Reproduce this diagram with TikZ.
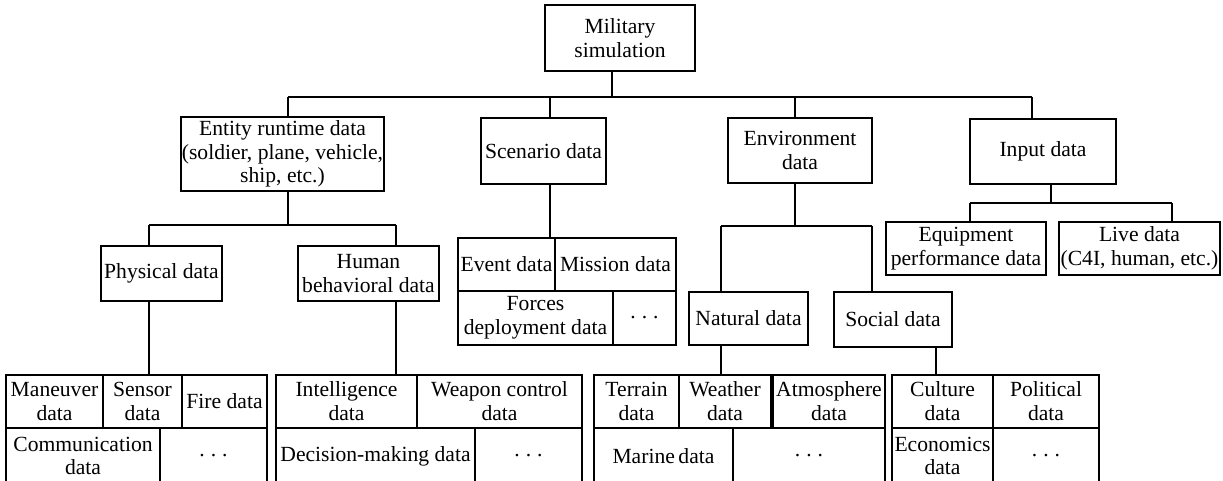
\documentclass[tikz,border=0pt]{standalone}
\usepackage{fontspec}
\setmainfont{Liberation Serif}
\usetikzlibrary{calc}
\newcommand\diagfont{\fontsize{10.8pt}{11.9pt}\selectfont}
\newcommand\spdots{.\hspace{0.28em}.\hspace{0.28em}.}
% cell from corner (x1,y1) to corner (x2,y2), in pixel units
\newcommand\cellnode[6]{%
  \pgfmathsetmacro\cellw{(#4-#2)*0.5}%
  \pgfmathsetmacro\cellh{(#5-#3)*0.5}%
  \node[box, minimum width=\cellw pt, minimum height=\cellh pt] (#1) at ({(#2+#4)/2},{(#3+#5)/2}) {#6};}
\tikzset{
  box/.style={draw, line width=0.65pt, inner sep=0.5pt, align=center, font=\diagfont},
  link/.style={draw, line width=0.65pt},
}
\begin{document}
\begin{tikzpicture}[x=0.5pt, y=-0.5pt]
\useasboundingbox (0,0) rectangle (1223,481);
\fill[white] (0,0) rectangle (1223,481);
\begin{scope}
\clip (0,0) rectangle (1223,481);

% top level
\cellnode{root}{545}{5}{695}{71}{Military\\simulation}
\cellnode{entity}{181}{117}{384}{191}{Entity runtime data\\(soldier, plane, vehicle,\\ship, etc.)}
\cellnode{scenario}{481}{118}{606}{184}{Scenario data}
\cellnode{env}{728}{118}{872}{183}{Environment\\data}
\cellnode{input}{970}{119}{1116}{184}{Input data}

% second level
\cellnode{phys}{101}{246}{222}{301}{Physical data}
\cellnode{human}{298}{246}{439}{301}{Human\\behavioral data}
\cellnode{natural}{689}{292}{808}{345}{Natural data}
\cellnode{social}{834}{292}{952}{347}{Social data}
\cellnode{equip}{886}{222}{1046}{275}{Equipment\\performance data}
\cellnode{live}{1059}{222}{1220}{275}{Live data\\(C4I, human, etc.)}

% scenario data grid
\cellnode{event}{458}{238}{555}{291}{Event data}
\cellnode{mission}{555}{238}{676}{291}{Mission data}
\cellnode{forces}{458}{291}{613}{345}{Forces\\deployment data}
\cellnode{scnmore}{613}{291}{676}{345}{\spdots}

% physical data grid
\cellnode{maneuver}{6}{375}{103}{428}{Maneuver\\data}
\cellnode{sensor}{103}{375}{182}{428}{Sensor\\data}
\cellnode{fire}{182}{375}{267}{428}{Fire data}
\cellnode{comm}{6}{428}{160}{484}{Communication\\data}
\cellnode{physmore}{160}{428}{267}{484}{\spdots}

% human behavioral data grid
\cellnode{intel}{276}{375}{417}{428}{Intelligence\\data}
\cellnode{weapon}{417}{375}{582}{428}{Weapon control\\data}
\cellnode{decision}{276}{428}{475}{484}{Decision-making data}
\cellnode{humanmore}{475}{428}{582}{484}{\spdots}

% natural data grid
\cellnode{terrain}{594}{375}{679}{428}{Terrain\\data}
\cellnode{weather}{679}{375}{771}{428}{Weather\\data}
\cellnode{atmos}{773}{375}{885}{428}{Atmosphere\\data}
\cellnode{marine}{594}{428}{733}{484}{Marine\,data}
\cellnode{natmore}{733}{428}{885}{484}{\spdots}

% social data grid
\cellnode{culture}{892}{375}{993}{428}{Culture\\data}
\cellnode{political}{993}{375}{1099}{428}{Political\\data}
\cellnode{econ}{892}{428}{993}{484}{Economics\\data}
\cellnode{socmore}{993}{428}{1099}{484}{\spdots}

% main bus
\coordinate (busL) at (288,97);
\coordinate (busM) at (612,97);
\coordinate (busS) at (550,97);
\coordinate (busE) at (795,97);
\coordinate (busR) at (1032,97);
\path[link] (busM |- root.south) -- (busM);
\path[link] (busL) -- (busR);
\path[link] (busL) -- (busL |- entity.north);
\path[link] (busS) -- (busS |- scenario.north);
\path[link] (busE) -- (busE |- env.north);
\path[link] (busR) -- (busR |- input.north);

% entity branch
\coordinate (entL) at (149,225);
\coordinate (entM) at (288,225);
\coordinate (entR) at (396,225);
\path[link] (entM |- entity.south) -- (entM);
\path[link] (entL) -- (entR);
\path[link] (entL) -- (entL |- phys.north);
\path[link] (entR) -- (entR |- human.north);
\path[link] (entL |- phys.south) -- (entL |- maneuver.north);
\path[link] (entR |- human.south) -- (entR |- intel.north);

% scenario branch
\path[link] (busS |- scenario.south) -- (busS |- event.north);

% environment branch
\coordinate (envL) at (721,226);
\coordinate (envR) at (872,226);
\coordinate (socX) at (936,226);
\path[link] (busE |- env.south) -- (busE |- envL);
\path[link] (envL) -- (envR);
\path[link] (envL) -- (envL |- natural.north);
\path[link] (envR) -- (envR |- social.north);
\path[link] (envL |- natural.south) -- (envL |- terrain.north);
\path[link] (socX |- social.south) -- (socX |- culture.north);

% input branch
\coordinate (inL) at (970,203);
\coordinate (inM) at (1051,203);
\coordinate (inR) at (1172,203);
\path[link] (inM |- input.south) -- (inM);
\path[link] (inL) -- (inR);
\path[link] (inL) -- (inL |- equip.north);
\path[link] (inR) -- (inR |- live.north);
\end{scope}
\end{tikzpicture}
\end{document}
